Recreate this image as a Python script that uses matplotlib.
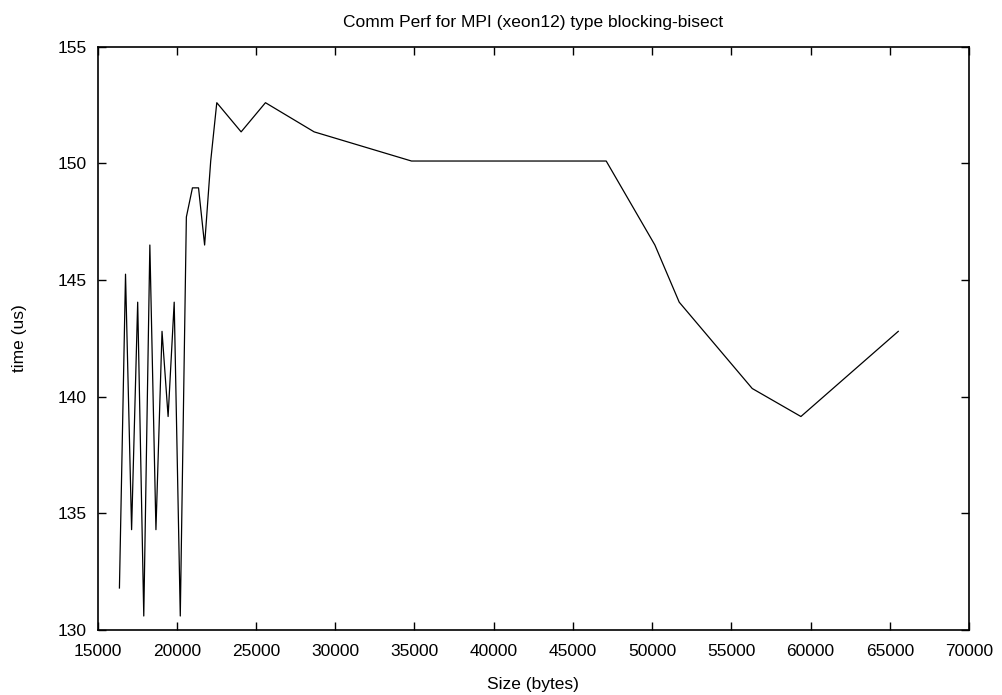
import matplotlib
matplotlib.use("Agg")
import matplotlib.pyplot as plt

sizes = [16384, 16768, 17152, 17536, 17920, 18304, 18688, 19072, 19456, 19840,
         20224, 20608, 20992, 21376, 21760, 22144, 22528, 24064, 25600, 28672,
         34816, 47104, 50176, 51712, 56320, 59392, 65536]
times = [131.8, 145.25, 134.3, 144.05, 130.6, 146.5, 134.3, 142.8, 139.15, 144.05,
         130.6, 147.7, 148.95, 148.95, 146.5, 150.1, 152.6, 151.35, 152.6, 151.35,
         150.1, 150.1, 146.5, 144.05, 140.35, 139.15, 142.8]

xticks = list(range(15000, 70001, 5000))
yticks = [130, 135, 140, 145, 150, 155]

plt.rcParams['font.family'] = ['Liberation Sans', 'DejaVu Sans']
fs = 12.5
fig = plt.figure(figsize=(10.02, 6.95), dpi=100)
ax = fig.add_axes([97.5/1002, 1 - 630/695, (969-97.5)/1002, (630-46.7)/695])
ax.plot(sizes, times, color='black', linewidth=0.9)
ax.set_xlim(15000, 70000)
ax.set_ylim(130, 155)
ax.set_xticks(xticks)
ax.set_yticks(yticks)
ax.tick_params(direction='in', top=True, right=True, length=6, width=1, labelsize=fs)
ax.tick_params(axis='y', pad=8)
ax.tick_params(axis='x', pad=10)
for s in ax.spines.values():
    s.set_linewidth(1.2)
ax.set_xlabel('Size (bytes)', fontsize=fs, labelpad=13)
ax.set_ylabel('time (us)', fontsize=fs, labelpad=22)
ax.set_title('Comm Perf for MPI (xeon12) type blocking-bisect', fontsize=fs, pad=14)
fig.savefig('out.png', dpi=100)
